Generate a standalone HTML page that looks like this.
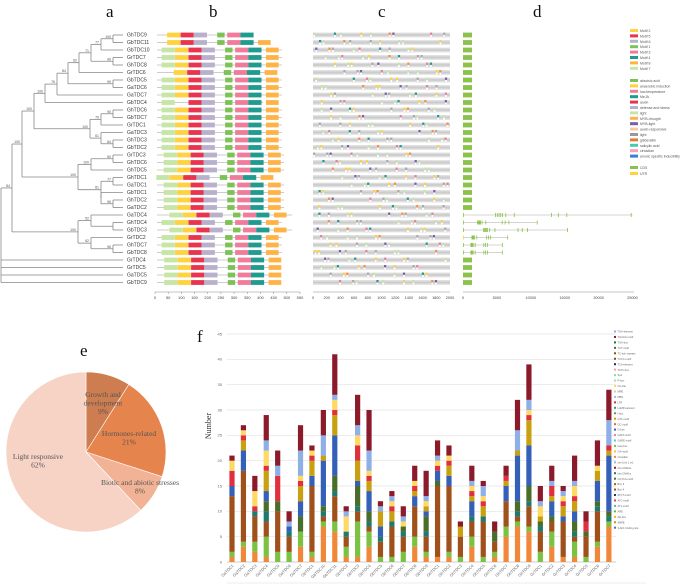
<!DOCTYPE html>
<html><head><meta charset="utf-8"><style>
html,body{margin:0;padding:0;background:#fff;}
svg{display:block;font-family:"Liberation Sans",sans-serif;}
</style></head><body>
<svg id="fig" width="685" height="585" viewBox="0 0 685 585">
<g font-family="Liberation Serif,serif" font-size="17" fill="#111">
<text x="106" y="17">a</text>
<text x="209" y="17">b</text>
<text x="378" y="17">c</text>
<text x="533" y="17">d</text>
<text x="80" y="356">e</text>
<text x="197" y="342">f</text>
</g>
<g id="tree"></g>
<g id="pb"></g>
<g id="pc"></g>
<g id="pd"></g>
<g id="lg"></g>
<g id="pie"></g>
<g id="bars"></g>
</svg>
<script>
const NS="http://www.w3.org/2000/svg";
function mk(tag,attrs,parent,txt){const e=document.createElementNS(NS,tag);for(const k in attrs)e.setAttribute(k,attrs[k]);if(txt!==undefined)e.textContent=txt;parent.appendChild(e);return e;}

const genes=["GhTDC9","GbTDC11","GbTDC10","GrTDC7","GhTDC8","GrTDC6","GbTDC5","GaTDC6","GaTDC7","GbTDC4","GhTDC6","GbTDC7","GrTDC1","GaTDC3","GhTDC3","GbTDC2","GrTDC3","GhTDC6","GhTDC5","GhTDC1","GaTDC1","GbTDC1","GhTDC2","GaTDC2","GaTDC4","GhTDC4","GbTDC3","GrTDC2","GhTDC7","GbTDC8","GrTDC4","GrTDC5","GaTDC5","GbTDC9"];
const rowY=i=>35+i*7.5;

const tree=document.getElementById('tree');
const LEAFX=123;
const T=[1,"100",[
 [12,"84",[
  [22,"100",[
   [34,"100",[
    [45,"100",[
     [57,"76",[
      [68,"84",[
       [79,"62",[
        [91,"71",[[101,"77",[[113,"100",[0,1]],2]],[113,"99",[3,4]]]],5]],
       [113,"99",[6,7]]]],
      8]],
     9]],
    [90,"100",[[101,"79",[[113,"90",[10,11]],12]],[101,"61",[13,[113,"84",[14,15]]]]]]]],
   [78,"100",[[91,"100",[[113,"60",[16,17]],18]],[101,"81",[[113,"77",[19,20]],[101,"",[21,[113,"96",[22,23]]]]]]]]]],
  [78,"100",[[91,"52",[24,[113,"",[25,26]]]],[91,"62",[27,[113,"96",[28,29]]]]]]]],
 30,31,32,33]];
function drawNode(n){
  if(typeof n==="number"){return rowY(n);}
  const [x,bs,ch]=n;const ys=[];
  ch.forEach(c=>{const y=drawNode(c);const cx=typeof c==="number"?LEAFX:c[0];ys.push(y);
    const l=mk('line',{x1:x,y1:y,x2:cx,y2:y,stroke:'#888','stroke-width':0.8},tree);
    });
  const y0=Math.min(...ys),y1=Math.max(...ys);
  mk('line',{x1:x,y1:y0,x2:x,y2:y1,stroke:'#888','stroke-width':0.8},tree);
  const ym=(y0+y1)/2;
  if(bs){const t=mk('text',{x:x-2,y:ym-1,'font-size':3.5,fill:'#555','text-anchor':'end'},tree,bs);
    }
  return ym;
}
drawNode(T);
genes.forEach((g,i)=>{const t=mk('text',{x:127,y:rowY(i)+1.7,'font-size':5,fill:'#333'},tree,g);
  });

const pb=document.getElementById('pb');
const motifCols=["#ffd23f","#e8344e","#b8b0cc","#7cc254","#f07c9c","#1f9b8f","#ffb347","#c5e6a6"];
const motifNames=["Motif 2","Motif 5","Motif 6","Motif 1","Motif 3","Motif 4","Motif 8","Motif 7"];
const stdM=[[7,25],[0,76],[1,127],[2,177],[3,266],[4,304],[5,354],[6,421]];
const bX=a=>155+a*0.2636;
genes.forEach((g,i)=>{
  const y=rowY(i);let shift=0,len=481,skip=[];
  if(i<2){shift=-30;skip=[7];len=i==0?355:400;if(i==0)skip.push(6);}
  if(i==5){shift=-5;skip=[7];len=440;}
  if(i==9){skip=[0];len=410;}
  if(i>=16&&i<=23){shift=8;len=490;}
  if(i==24||i==26){shift=30;len=520;}
  if(i==19){shift=-20;skip=[];len=440;}
  if(i>=30){shift=10;len=470;}
  mk('line',{x1:bX(0)+2,y1:y,x2:bX(len),y2:y,stroke:'#999','stroke-width':0.6},pb);
  stdM.forEach(([m,s])=>{if(skip.includes(m))return;
    const w=m==3?28:(m==6?48:50);
    const r=mk('rect',{x:bX(s+shift),y:y-2.4,width:w*0.2636,height:4.8,fill:motifCols[m]},pb);
    });
});
mk('line',{x1:155,y1:292,x2:300,y2:292,stroke:'#888','stroke-width':0.5},pb);
for(let a=0;a<=550;a+=50){mk('line',{x1:bX(a),y1:292,x2:bX(a),y2:294,stroke:'#888','stroke-width':0.5},pb);
 mk('text',{x:bX(a),y:299,'font-size':4,fill:'#444','text-anchor':'middle'},pb,a);}

const pc=document.getElementById('pc');
const cX=v=>313+v*0.0685;
const ccols=["#c5e6a6","#ffd23f","#aaa","#c5e6a6","#7b5ea7","#1f9b8f","#aaa","#c5e6a6","#ff8c42","#f07c9c","#ffd23f"];
const defs=mk('defs',{},pc);
const lgr=mk('linearGradient',{id:'gg',x1:0,y1:0,x2:0,y2:1},defs);
mk('stop',{offset:0,'stop-color':'#e8e8e8'},lgr);mk('stop',{offset:0.5,'stop-color':'#c8c8c8'},lgr);mk('stop',{offset:1,'stop-color':'#ececec'},lgr);
genes.forEach((g,i)=>{const y=rowY(i);
  const r=mk('rect',{x:313,y:y-2.5,width:137,height:5,fill:'url(#gg)'},pc);
  
  for(let j=0;j<9;j++){const p=((i*137+j*263+j*j*41)%1950);
    const col=ccols[(i*3+j*5)%ccols.length];
    mk('rect',{x:cX(p),y:y-2.5,width:2.2,height:2.5,fill:col},pc);
    mk('rect',{x:cX(p),y:y,width:2.2,height:2.5,fill:'#fff',stroke:'#ccc','stroke-width':0.3},pc);}
});
mk('line',{x1:313,y1:292,x2:450,y2:292,stroke:'#888','stroke-width':0.5},pc);
for(let v=0;v<=2000;v+=200){mk('text',{x:cX(v),y:299,'font-size':3.8,fill:'#444','text-anchor':'middle'},pc,v);}

const pd=document.getElementById('pd');
const dX=v=>463+v*0.00678;
const longLen={24:25000,25:11000,26:15500,27:6600,28:5800,29:5800};
genes.forEach((g,i)=>{const y=rowY(i);
  if(longLen[i]){const L=longLen[i];
    mk('line',{x1:dX(0),y1:y,x2:dX(L),y2:y,stroke:'#aaa','stroke-width':0.6},pd);
    [0,0.19,0.2,0.21,0.22,0.23,0.25,0.3,0.52,0.56,0.61,0.99].forEach(f=>{
      mk('rect',{x:dX(L*f),y:y-2,width:0.8,height:4,fill:i==27&&f<0.05?'#ffd23f':'#8bc34a'},pd);});
  } else {
    const r=mk('rect',{x:463,y:y-2.4,width:9,height:4.8,fill:'#8bc34a'},pd);
    
  }});
mk('line',{x1:463,y1:292,x2:634,y2:292,stroke:'#888','stroke-width':0.5},pd);
[0,5000,10000,15000,20000,25000].forEach(v=>mk('text',{x:dX(v),y:299,'font-size':3.8,fill:'#444','text-anchor':'middle'},pd,v));

const lg=document.getElementById('lg');
function legItem(y,col,name){mk('rect',{x:630,y:y-2,width:8,height:3,fill:col},lg);
 const t=mk('text',{x:640,y:y+1,'font-size':3.5,fill:'#555'},lg,name);
 }
motifNames.forEach((n,i)=>legItem(31+i*5.4,motifCols[i],n));
const regs=[["abscisic acid","#7cc254"],["anaerobic induction","#ffd23f"],["low-temperature","#f07c9c"],["MeJA","#1f9b8f"],["auxin","#e8344e"],["defense and stress","#b8b0cc"],["light","#c5e6a6"],["MYB-drought","#ffb347"],["MYB-light","#7b5ea7"],["auxin-responsive","#f5cba7"],["light","#999"],["gibberellin","#e07b39"],["salicylic acid","#48c9b0"],["circadian","#f5a3b5"],["anoxic specific inducibility","#3b7dd8"]];
regs.forEach((r,i)=>legItem(81+i*5.4,r[1],r[0]));
legItem(168,"#8bc34a","CDS");legItem(174,"#ffd23f","UTR");

const pie=document.getElementById('pie');
const pieLabels=["Growth and development","Hormones-related","Biotic and abiotic stresses","Light responsive"];
const pieValues=[9,21,8,62];
const pieCols=["#cd7d50","#e6844d","#f2b296","#f7d3c6"];
const PCX=86,PCY=452,PR=80;
let acc=0;const tot=pieValues.reduce((a,b)=>a+b,0);
pieValues.forEach((v,i)=>{const a0=acc/tot*2*Math.PI,a1=(acc+v)/tot*2*Math.PI;acc+=v;
  const x0=PCX+PR*Math.sin(a0),y0=PCY-PR*Math.cos(a0),x1=PCX+PR*Math.sin(a1),y1=PCY-PR*Math.cos(a1);
  const p=mk('path',{d:`M${PCX},${PCY} L${x0},${y0} A${PR},${PR} 0 ${a1-a0>Math.PI?1:0} 1 ${x1},${y1} Z`,fill:pieCols[i],stroke:'#fff','stroke-width':0.6},pie);
  });
const pl=[[103,397,["Growth and","development","9%"]],[129,436,["Hormones-related","21%"]],[38,459,["Light responsive","62%"]],[140,485,["Biotic and abiotic stresses","8%"]]];
pl.forEach(([x,y,lines])=>{lines.forEach((s,k)=>{const t=mk('text',{x:x,y:y+k*8.5,'font-size':7.5,'font-family':'Liberation Serif,serif',fill:'#555','text-anchor':'middle'},pie,s);
  });});

const barNames=["GaTDC1","GaTDC2","GaTDC3","GaTDC4","GaTDC5","GaTDC6","GaTDC7","GbTDC1","GbTDC10","GbTDC11","GbTDC2","GbTDC3","GbTDC4","GbTDC5","GbTDC6","GbTDC7","GbTDC8","GbTDC9","GhTDC1","GhTDC2","GhTDC3","GhTDC4","GhTDC5","GhTDC6","GhTDC7","GhTDC8","GhTDC9","GrTDC1","GrTDC2","GrTDC3","GrTDC4","GrTDC5","GrTDC6","GrTDC7"];
const seriesNames=["ABRE","CGTCA-motif","Box 4","TCA-element","TCT-motif","G-box","GT1-motif","LTR","GARE-motif","TGA-element","TGACG-motif"];
const seriesColors=["#f0883a","#7cc242","#a0501a","#1e7a70","#4a6e2a","#3560b8","#c8a010","#e0303e","#ffd966","#8fb0e6","#8b1a2a"];
const sABRE=[1,3,2,1,0,0,3,1,7,6,1,1,3,0,0,0,3,1,1,1,0,3,0,1,5,7,6,0,3,1,1,0,3,7];
const sCGTCA=[1,1,2,4,2,2,3,1,1,2,2,7,3,1,1,2,2,1,0,1,1,2,1,1,2,1,1,2,3,0,3,1,1,1];
const sBox4=[11,14,5,3,8,3,0,13,1,5,2,2,1,3,6,3,6,3,14,13,4,3,7,2,5,1,4,4,2,7,1,4,6,0];
const sTCA=[0,0,1,2,0,1,0,0,1,1,1,1,1,1,1,1,0,1,0,0,0,1,1,0,0,1,1,1,0,0,1,0,1,1];
const sTCT=[0,0,0,2,2,0,3,0,1,3,0,4,2,0,0,1,0,3,1,0,0,0,0,2,0,2,3,1,1,0,2,1,1,1];
const sGbox=[2,4,0,2,0,1,3,2,9,8,0,1,4,2,0,0,2,1,2,2,0,3,0,0,3,9,8,0,3,1,2,0,4,11];
const sGT1=[0,2,0,4,0,0,3,3,1,4,0,4,2,3,2,0,1,1,0,2,2,1,2,0,1,1,5,1,1,2,2,0,2,1];
const sLTR=[3,1,1,1,5,0,1,1,0,1,0,3,1,0,1,0,1,0,1,1,0,1,1,0,1,0,1,0,2,1,1,2,0,1];
const sGARE=[2,1,3,3,0,0,1,1,0,2,3,2,1,0,1,1,1,1,1,1,0,1,1,0,0,0,1,2,0,1,2,0,1,0];
const sTGA=[0,0,0,2,2,1,5,0,4,1,1,2,4,1,1,1,0,1,1,0,0,1,2,0,0,4,2,1,1,1,1,0,0,5];
const sTGACG=[1,1,3,5,3,2,5,1,5,8,1,6,8,1,1,2,3,5,3,2,1,3,1,2,2,6,7,3,3,1,5,2,5,6];
const seriesData=[sABRE,sCGTCA,sBox4,sTCA,sTCT,sGbox,sGT1,sLTR,sGARE,sTGA,sTGACG];
const yTicks=[0,5,10,15,20,25,30,35,40,45];
const legendNames=["TGA-element","TGACG-motif","TGA-box","TCT-motif","TC-rich repeats","TCCC-motif","TCA-element","TATC-box","Sp1","P-box","O2-site","MRE","MBS","LTR","LAMP-element","I-box","GT1-motif","GC-motif","G-box","GATA-motif","GARE-motif","Gap-box","GA-motif","circadian","chs-Unit 1 m1","chs-CMA2a","chs-CMA1a","CGTCA-motif","Box II","Box 4","ATCT-motif","ATC-motif","AT1-motif","ARE","AE-box","ABRE","3-AF1 binding site"];
const legendColors=["#8fb0e6","#8b1a2a","#1e6a60","#4a6e2a","#7a5a10","#8b4a1a","#1a2a6a","#f0a0a8","#70e0d0","#b8d890","#ffd966","#f5c09a","#a0b8e8","#e0303e","#2a9a8a","#6aa030","#c8a010","#e06a20","#3560b8","#f08090","#50d0c8","#7cc242","#f5c030","#f0883a","#a0b8e0","#a01a30","#1e7a70","#4a6e2a","#9a6a10","#a0501a","#1a3a8a","#e04050","#40c0b0","#60b840","#f5b800","#f07a30","#4a70c8"];
const bars=document.getElementById('bars');
const yS=v=>562-v*(228/45);
const xS=i=>232+i*11.42;
yTicks.forEach(v=>{const l=mk('line',{x1:227,y1:yS(v),x2:616,y2:yS(v),stroke:v==0?'#bbb':'#e2e2e2','stroke-width':0.7},bars);
  
  const t=mk('text',{x:222,y:yS(v)+1.3,'font-size':4,fill:'#666','text-anchor':'end'},bars,v);
  });
const yt=mk('text',{x:0,y:0,'font-size':8,'font-family':'Liberation Serif,serif',fill:'#333','text-anchor':'middle',transform:'translate(211,426) rotate(-90)'},bars,'Number');

barNames.forEach((n,i)=>{let base=0;
  seriesData.forEach((s,k)=>{const v=s[i];if(!v)return;
    const r=mk('rect',{x:xS(i)-2.6,y:yS(base+v),width:5.2,height:yS(base)-yS(base+v),fill:seriesColors[k]},bars);
    
    base+=v;});
  const t=mk('text',{x:0,y:0,'font-size':4,fill:'#666','text-anchor':'end',transform:`translate(${xS(i)+2},566) rotate(-45)`},bars,n);
  });
mk('line',{x1:227,y1:583,x2:646,y2:583,stroke:'#ddd','stroke-width':0.6},bars);
legendNames.forEach((n,i)=>{const y=332+i*5.45;
  mk('rect',{x:614,y:y-1.5,width:2,height:2,fill:legendColors[i]},bars);
  const t=mk('text',{x:617.5,y:y+0.6,'font-size':2.6,fill:'#666'},bars,n);
  });
</script>
</body></html>
